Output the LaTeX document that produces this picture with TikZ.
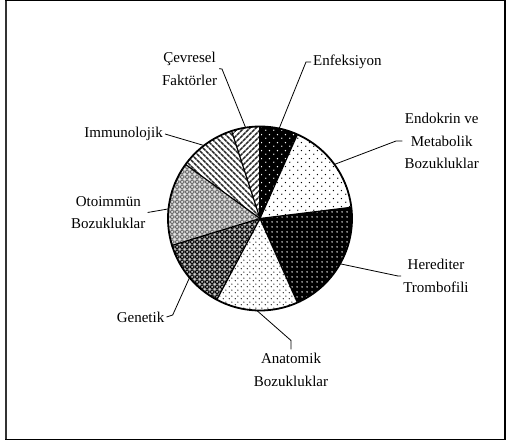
\documentclass[tikz,border=0pt]{standalone}
\usepackage{fontspec}
\setmainfont{Liberation Serif}
\usetikzlibrary{patterns.meta}

\tikzdeclarepattern{name=sparsedots, type=uncolored,
  bounding box={(0pt,0pt) and (8pt,8pt)}, tile size={(8pt,8pt)},
  code={\fill (2pt,2pt) circle (0.8pt); \fill (6pt,6pt) circle (0.8pt);}}
\tikzdeclarepattern{name=griddots, type=uncolored,
  bounding box={(0pt,0pt) and (5pt,5pt)}, tile size={(5pt,5pt)},
  code={\fill (2.5pt,2.5pt) circle (0.9pt);}}
\tikzdeclarepattern{name=finedots, type=uncolored,
  bounding box={(0pt,0pt) and (6pt,6pt)}, tile size={(6pt,6pt)},
  code={\fill (1.5pt,1.5pt) circle (0.75pt); \fill (4.5pt,4.5pt) circle (0.75pt);}}
\tikzdeclarepattern{name=xlines, type=uncolored,
  bounding box={(0pt,0pt) and (5pt,5pt)}, tile size={(5pt,5pt)},
  code={\draw[line width=0.9pt] (0pt,2.5pt) -- (2.5pt,5pt) -- (5pt,2.5pt) -- (2.5pt,0pt) -- cycle;}}
\tikzdeclarepattern{name=celldots, type=uncolored,
  bounding box={(0pt,0pt) and (5pt,5pt)}, tile size={(5pt,5pt)},
  code={\fill (2.5pt,2.5pt) circle (0.8pt); \fill (0pt,0pt) circle (0.8pt); \fill (5pt,0pt) circle (0.8pt);
        \fill (0pt,5pt) circle (0.8pt); \fill (5pt,5pt) circle (0.8pt);}}
\tikzdeclarepattern{name=stripesNE, type=uncolored,
  bounding box={(0pt,0pt) and (4.5pt,4.5pt)}, tile size={(4.5pt,4.5pt)},
  tile transformation={rotate=45},
  code={\fill (0pt,1.2pt) rectangle (4.5pt,3.3pt);}}
\tikzdeclarepattern{name=stripesNW, type=uncolored,
  bounding box={(0pt,0pt) and (4.5pt,4.5pt)}, tile size={(4.5pt,4.5pt)},
  tile transformation={rotate=-45},
  code={\fill (0pt,1.2pt) rectangle (4.5pt,3.3pt);}}

\newcommand\myslice[3]{\path[#1] (C) -- +(#2:92) arc[start angle=#2, end angle=#3, radius=92] -- cycle;}

\begin{document}
\begin{tikzpicture}[x=1pt,y=1pt,
  lbl/.style={font=\fontsize{15}{22.5}\selectfont, align=center, inner xsep=2pt, inner ysep=0pt},
  leader/.style={line width=0.8pt},
  sep/.style={line width=1.2pt, line join=round}]
\useasboundingbox (0,0) rectangle (506,-444);
\draw[line width=1.4pt] (6,-0.8) rectangle (505,-439.2);
\draw[line width=2.3pt, black!80] (6.2,-0.8) -- (6.2,-439.2);

\coordinate (C) at (260,-218.5);

% slices
\myslice{fill=black}{66}{90}
\myslice{pattern=sparsedots, pattern color=white}{66}{90}
\myslice{fill=white}{7}{66}
\myslice{pattern=sparsedots, pattern color=black}{7}{66}
\myslice{fill=black}{-66}{7}
\myslice{pattern=griddots, pattern color=white}{-66}{7}
\myslice{fill=white}{-118}{-66}
\myslice{pattern=finedots, pattern color=black}{-118}{-66}
\myslice{fill=black!55}{-163}{-118}
\myslice{pattern=xlines, pattern color=black}{-163}{-118}
\myslice{pattern=celldots, pattern color=white}{-163}{-118}
\myslice{fill=black!25}{144}{197}
\myslice{pattern=xlines, pattern color=black!60}{144}{197}
\myslice{pattern=celldots, pattern color=white}{144}{197}
\myslice{fill=white}{108}{144}
\myslice{pattern=stripesNW, pattern color=black!85}{108}{144}
\myslice{fill=white}{90}{108}
\myslice{pattern=stripesNE, pattern color=black!85}{90}{108}

\foreach \a in {90,66,7,-66,-118,-163,144,108}
  \draw[sep] (C) -- +(\a:92);
\draw[line width=1.8pt] (C) circle[radius=92];

% points on the pie edge
\path (C) ++(78:92) coordinate (pEnf);
\path (C) ++(36:92) coordinate (pEndo);
\path (C) ++(-29.5:92) coordinate (pHer);
\path (C) ++(-92:92) coordinate (pAn);
\path (C) ++(-140:92) coordinate (pGen);
\path (C) ++(174:92) coordinate (pOto);
\path (C) ++(127.5:92) coordinate (pImm);
\path (C) ++(99:92) coordinate (pCev);

% labels
\node[lbl, anchor=west] (enf) at (311,-62) {Enfeksiyon};
\node[lbl] (endo) at (441.7,-141) {Endokrin ve\\Metabolik\\Bozukluklar};
\node[lbl] (hered) at (436,-276) {Herediter\\Trombofili};
\node[lbl, inner ysep=4pt] (anat) at (291,-370) {Anatomik\\Bozukluklar};
\node[lbl, anchor=east] (gen) at (166.5,-317) {Genetik};
\node[lbl] (oto) at (108.3,-212.5) {Otoimmün\\Bozukluklar};
\node[lbl, anchor=east] (immu) at (165,-134) {Immunolojik};
\node[lbl] (cev) at (189.5,-68.7) {Çevresel\\Faktörler};

% elbows
\coordinate (eEnf) at (306,-62);
\coordinate (eEndo) at (396,-141);
\coordinate (eHer) at (398,-276);
\coordinate (eAn) at (291,-340.5);
\coordinate (eGen) at (172.7,-315);
\coordinate (eCev) at (222,-69);

% leaders
\draw[leader] (enf.west) -- (eEnf) -- (pEnf);
\draw[leader] (endo.west) -- (eEndo) -- (pEndo);
\draw[leader] (hered.west) -- (eHer) -- (pHer);
\draw[leader] (anat.north) -- (eAn) -- (pAn);
\draw[leader] (gen.east) -- (eGen) -- (pGen);
\draw[leader] (oto.east) -- (pOto);
\draw[leader] (immu.east) -- (pImm);
\draw[leader] (cev.east) -- (eCev) -- (pCev);
\end{tikzpicture}
\end{document}
